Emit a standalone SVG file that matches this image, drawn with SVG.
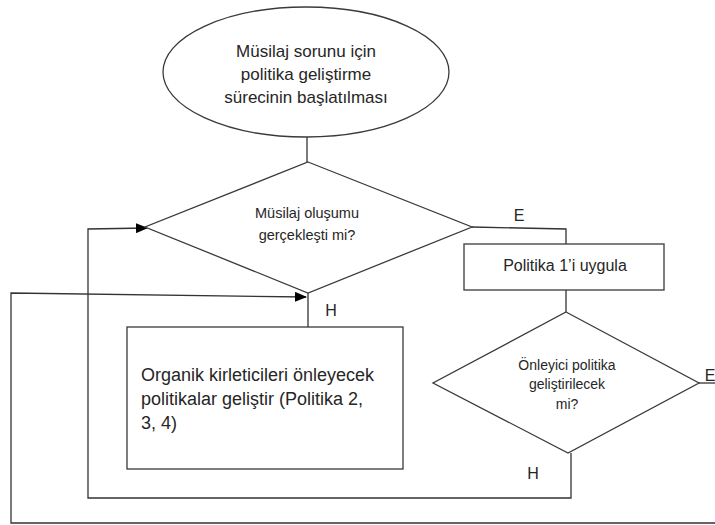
<svg xmlns="http://www.w3.org/2000/svg" width="715" height="525" viewBox="0 0 715 525">
<style>
.shape{fill:#fff;stroke:#3a3a3a;stroke-width:1.3}
.line{fill:none;stroke:#333;stroke-width:1.3}
text{font-family:"Liberation Sans",Arial,sans-serif;fill:#262626}
.c{text-anchor:middle}
</style>
<defs>
<marker id="arr" markerWidth="12" markerHeight="10" refX="11" refY="5" orient="auto" markerUnits="userSpaceOnUse">
<path d="M0,0 L12,5 L0,10 Z" fill="#000"/>
</marker>
</defs>
<rect width="715" height="525" fill="#fff"/>
<g id="connectors">
<path class="line" d="M307,137 L307,162"/>
<path class="line" d="M472,227 L566,229 L566,244"/>
<path class="line" d="M308,293 L308,327"/>
<path class="line" d="M566,290 L566,312"/>
<path class="line" d="M571,453 L571,498 L88,498 L88,229 L147,228" marker-end="url(#arr)"/>
<path class="line" d="M699,383 L720,383"/>
<path class="line" d="M720,523 L11,523 L11,293 L306,297" marker-end="url(#arr)"/>
<text x="519" y="221" font-size="16" class="c">E</text>
<text x="331" y="316" font-size="16" class="c">H</text>
<text x="533" y="479" font-size="16" class="c">H</text>
<text x="710" y="381" font-size="16" class="c">E</text>
</g>
<g id="start">
<ellipse class="shape" cx="306" cy="72" rx="143" ry="65"/>
<text x="306" y="57" font-size="17" class="c">Müsilaj sorunu için</text>
<text x="306" y="80" font-size="17" class="c">politika geliştirme</text>
<text x="306" y="103" font-size="17" class="c">sürecinin başlatılması</text>
</g>
<g id="decision1">
<polygon class="shape" points="308,162 472,227 308,293 145,227"/>
<text x="307" y="218" font-size="14.5" class="c">Müsilaj oluşumu</text>
<text x="307" y="240" font-size="14.5" class="c">gerçekleşti mi?</text>
</g>
<g id="policy1">
<rect class="shape" x="464" y="244" width="200" height="46"/>
<text x="565" y="271" font-size="16" class="c">Politika 1’i uygula</text>
</g>
<g id="decision2">
<polygon class="shape" points="566,312 699,383 568,453 433,383"/>
<text x="567" y="370" font-size="14" class="c">Önleyici politika</text>
<text x="567" y="389" font-size="14" class="c">geliştirilecek</text>
<text x="567" y="409" font-size="14" class="c">mi?</text>
</g>
<g id="policies">
<rect class="shape" x="127" y="327" width="276" height="142"/>
<text x="141" y="381" font-size="18">Organik kirleticileri önleyecek</text>
<text x="141" y="405" font-size="18">politikalar geliştir (Politika 2,</text>
<text x="141" y="429" font-size="18">3, 4)</text>
</g>
</svg>
